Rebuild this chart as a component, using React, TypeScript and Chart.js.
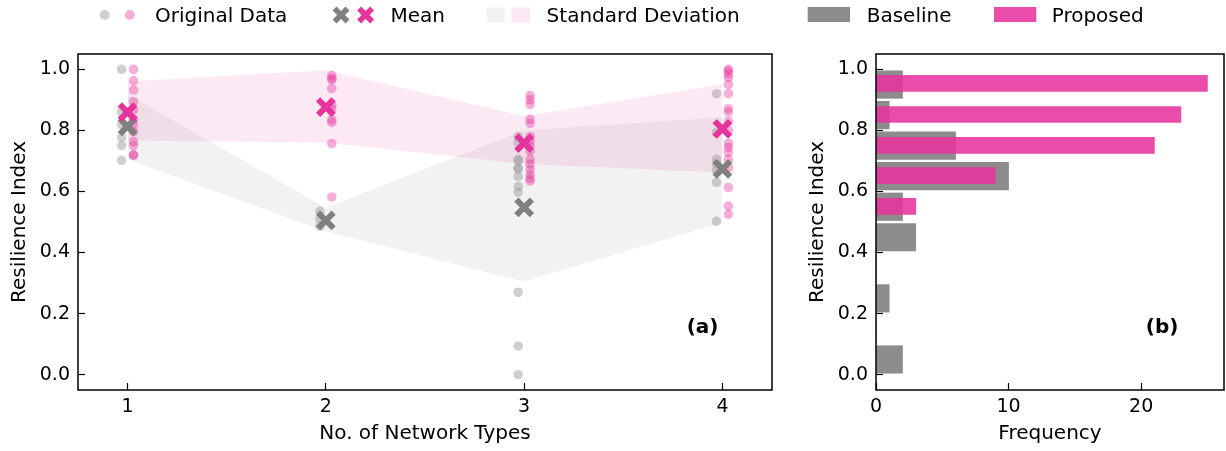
import React, { useEffect, useRef } from 'react';
import { Chart, registerables } from 'chart.js';

Chart.register(...registerables);

// ---------- data ----------
const networkTypes = [1, 2, 3, 4];

const baselineData = [
  [1.0, 0.86, 0.82, 0.777, 0.751, 0.702],
  [0.535, 0.51, 0.486],
  [0.78, 0.76, 0.705, 0.7, 0.675, 0.675, 0.649, 0.616, 0.597, 0.27, 0.094, 0.0],
  [0.92, 0.793, 0.705, 0.69, 0.67, 0.63, 0.502],
];
const proposedData = [
  [1.0, 0.963, 0.932, 0.894, 0.867, 0.836, 0.818, 0.796, 0.763, 0.75, 0.72, 0.718],
  [0.98, 0.97, 0.965, 0.937, 0.882, 0.87, 0.835, 0.826, 0.757, 0.582],
  [0.914, 0.9, 0.885, 0.836, 0.823, 0.78, 0.765, 0.749, 0.732, 0.705, 0.689, 0.672, 0.656, 0.643, 0.634],
  [1.0, 0.995, 0.984, 0.973, 0.95, 0.92, 0.871, 0.86, 0.83, 0.8, 0.757, 0.744, 0.728, 0.705, 0.678, 0.613, 0.552, 0.525],
];

const baselineMean = [0.813, 0.505, 0.548, 0.674];
const proposedMean = [0.86, 0.876, 0.758, 0.805];
const baselineUpper = [0.918, 0.547, 0.8, 0.843];
const baselineLower = [0.705, 0.469, 0.305, 0.498];
const proposedUpper = [0.96, 0.997, 0.846, 0.951];
const proposedLower = [0.767, 0.76, 0.69, 0.662];

const baselineBinCenters = [0.05, 0.15, 0.25, 0.35, 0.45, 0.55, 0.65, 0.75, 0.85, 0.95];
const baselineCounts = [2, 0, 1, 0, 3, 2, 10, 6, 1, 2];
const proposedBinCenters = [0.551, 0.652, 0.751, 0.852, 0.954];
const proposedCounts = [3, 9, 21, 23, 25];

const yTicks = [0, 0.2, 0.4, 0.6, 0.8, 1.0];
const xTicksLeft = [1, 2, 3, 4];
const xTicksRight = [0, 10, 20];

// ---------- styles ----------
const FONT = 'DejaVu Sans';
const GRAY = '128,128,128';
const PINK = '231,52,157';
const JITTER = 0.03;

const framePlugin = {
  id: 'frame',
  afterDatasetsDraw(chart: any, _args: any, opts: any) {
    const { ctx, chartArea: a } = chart;
    ctx.save();
    ctx.strokeStyle = '#000';
    ctx.lineWidth = 1.5;
    ctx.strokeRect(a.left, a.top, a.right - a.left, a.bottom - a.top);
    if (opts && opts.label) {
      ctx.font = `bold 20px "${FONT}"`;
      ctx.textAlign = 'center';
      ctx.textBaseline = 'middle';
      ctx.fillStyle = '#000';
      ctx.fillText(opts.label, a.left + opts.fx * (a.right - a.left), a.top + opts.fy * (a.bottom - a.top));
    }
    ctx.restore();
  },
};

const tickGrid = {
  display: true,
  drawOnChartArea: false,
  drawTicks: true,
  tickLength: -7,
  tickColor: '#000',
  tickWidth: 1.2,
  offset: false,
};

function yScale(width: number, titlePad: number) {
  return {
    type: 'linear',
    min: -0.05,
    max: 1.05,
    offset: false,
    afterBuildTicks: (s: any) => { s.ticks = yTicks.map((v) => ({ value: v })); },
    afterFit: (s: any) => { s.width = width; s.paddingTop = 0; s.paddingBottom = 0; },
    grid: tickGrid,
    border: { display: false },
    ticks: {
      color: '#000',
      font: { family: FONT, size: 19 },
      padding: 15,
      callback: (v: any) => Number(v).toFixed(1),
    },
    title: {
      display: true,
      text: 'Resilience Index',
      color: '#000',
      font: { family: FONT, size: 20 },
      padding: { top: titlePad, bottom: 0 },
    },
  };
}

function xScale(min: number, max: number, ticksArr: number[], title: string) {
  return {
    type: 'linear',
    min,
    max,
    offset: false,
    afterBuildTicks: (s: any) => { s.ticks = ticksArr.map((v) => ({ value: v })); },
    afterFit: (s: any) => { s.height = 61; s.paddingLeft = 0; s.paddingRight = 0; },
    grid: tickGrid,
    border: { display: false },
    ticks: {
      color: '#000',
      font: { family: FONT, size: 19 },
      padding: 13,
      maxRotation: 0,
      callback: (v: any) => String(v),
    },
    title: {
      display: true,
      text: title,
      color: '#000',
      font: { family: FONT, size: 20 },
      padding: { top: 0, bottom: 5 },
    },
  };
}

function pointsOf(data: number[][], dx: number) {
  return data.flatMap((vals, i) => vals.map((v) => ({ x: networkTypes[i] + dx, y: v })));
}
function lineOf(vals: number[]) {
  return vals.map((v, i) => ({ x: networkTypes[i], y: v }));
}

const bandLine = (data: any, order: number, fill: any, color: string) => ({
  type: 'line',
  data,
  order,
  fill,
  backgroundColor: color,
  borderColor: 'transparent',
  borderWidth: 0,
  pointRadius: 0,
  tension: 0,
});

export default function App() {
  const leftRef = useRef<HTMLCanvasElement>(null);
  const rightRef = useRef<HTMLCanvasElement>(null);

  useEffect(() => {
    Chart.defaults.font.family = FONT;
    Chart.defaults.color = '#000';

    const left = new Chart(leftRef.current as HTMLCanvasElement, {
      type: 'scatter',
      data: {
        datasets: [
          bandLine(lineOf(baselineUpper), 10, false, `rgba(${GRAY},0.1)`),
          bandLine(lineOf(baselineLower), 9, 0, `rgba(${GRAY},0.1)`),
          bandLine(lineOf(proposedUpper), 8, false, `rgba(${PINK},0.11)`),
          bandLine(lineOf(proposedLower), 7, 2, `rgba(${PINK},0.11)`),
          {
            type: 'scatter',
            data: pointsOf(baselineData, -JITTER),
            order: 5,
            pointRadius: 4.8,
            pointBorderWidth: 0,
            pointBackgroundColor: `rgba(160,160,160,0.5)`,
            backgroundColor: `rgba(160,160,160,0.5)`,
          },
          {
            type: 'scatter',
            data: pointsOf(proposedData, JITTER),
            order: 4,
            pointRadius: 4.8,
            pointBorderWidth: 0,
            pointBackgroundColor: `rgba(${PINK},0.4)`,
            backgroundColor: `rgba(${PINK},0.4)`,
          },
          {
            type: 'scatter',
            data: lineOf(baselineMean),
            order: 1,
            pointStyle: 'crossRot',
            pointRadius: 11,
            pointBorderWidth: 6,
            borderWidth: 6,
            pointBorderColor: `rgb(${GRAY})`,
            borderColor: `rgb(${GRAY})`,
          },
          {
            type: 'scatter',
            data: lineOf(proposedMean),
            order: 0,
            pointStyle: 'crossRot',
            pointRadius: 11,
            pointBorderWidth: 6,
            borderWidth: 6,
            pointBorderColor: `rgb(${PINK})`,
            borderColor: `rgb(${PINK})`,
          },
        ] as any,
      },
      options: {
        responsive: false,
        animation: false,
        layout: { autoPadding: false, padding: { top: 54, right: 8, left: 0, bottom: 0 } },
        plugins: {
          legend: { display: false },
          tooltip: { enabled: false },
          frame: { label: '(a)', fx: 0.9, fy: 0.815 },
        } as any,
        scales: {
          x: xScale(0.75, 4.25, xTicksLeft, 'No. of Network Types'),
          y: yScale(78, 8),
        } as any,
      },
      plugins: [framePlugin],
    });

    const right = new Chart(rightRef.current as HTMLCanvasElement, {
      type: 'bar',
      data: {
        datasets: [
          {
            label: 'Baseline',
            data: baselineBinCenters.map((c, i) => ({ x: baselineCounts[i], y: c })),
            backgroundColor: `rgba(${GRAY},0.9)`,
            borderWidth: 0,
            barThickness: 27.5,
            grouped: false,
            order: 1,
          },
          {
            label: 'Proposed',
            data: proposedBinCenters.map((c, i) => ({ x: proposedCounts[i], y: c })),
            backgroundColor: `rgba(${PINK},0.88)`,
            borderWidth: 0,
            barThickness: 16,
            grouped: false,
            order: 0,
          },
        ] as any,
      },
      options: {
        indexAxis: 'y',
        responsive: false,
        animation: false,
        layout: { autoPadding: false, padding: { top: 54, right: 2, left: 0, bottom: 0 } },
        plugins: {
          legend: { display: false },
          tooltip: { enabled: false },
          frame: { label: '(b)', fx: 0.822, fy: 0.815 },
        } as any,
        scales: {
          x: xScale(0, 26.25, xTicksRight, 'Frequency'),
          y: yScale(86, 16),
        } as any,
      },
      plugins: [framePlugin],
    });

    return () => {
      left.destroy();
      right.destroy();
    };
  }, []);

  const textStyle: React.CSSProperties = {
    position: 'absolute',
    top: 0,
    height: 30,
    lineHeight: '30px',
    fontFamily: FONT,
    fontSize: 20,
    color: '#000',
    whiteSpace: 'nowrap',
  };

  const xMark = (cx: number, cy: number, color: string) => (
    <g stroke={color} strokeWidth={5.5}>
      <line x1={cx - 6.5} y1={cy - 6.5} x2={cx + 6.5} y2={cy + 6.5} />
      <line x1={cx - 6.5} y1={cy + 6.5} x2={cx + 6.5} y2={cy - 6.5} />
    </g>
  );

  return (
    <div style={{ position: 'absolute', left: 0, top: 0, width: 1226, height: 451, background: '#fff', overflow: 'hidden' }}>
      <canvas ref={leftRef} width={780} height={451} style={{ position: 'absolute', left: 0, top: 0 }} />
      <canvas ref={rightRef} width={436} height={451} style={{ position: 'absolute', left: 790, top: 0 }} />
      <svg width={1226} height={32} style={{ position: 'absolute', left: 0, top: 0 }}>
        <circle cx={104.7} cy={15} r={5} fill="rgba(160,160,160,0.5)" />
        <circle cx={129.8} cy={15} r={5} fill={`rgba(${PINK},0.4)`} />
        {xMark(341, 15, `rgb(${GRAY})`)}
        {xMark(365.6, 15, `rgb(${PINK})`)}
        <rect x={486.5} y={7.5} width={18.5} height={15} fill={`rgba(${GRAY},0.1)`} />
        <rect x={511.6} y={7.5} width={18.5} height={15} fill={`rgba(${PINK},0.11)`} />
        <rect x={807.7} y={7} width={42.3} height={15} fill={`rgba(${GRAY},0.9)`} />
        <rect x={994} y={7} width={42.3} height={15} fill={`rgba(${PINK},0.88)`} />
      </svg>
      <span style={{ ...textStyle, left: 155 }}>Original Data</span>
      <span style={{ ...textStyle, left: 390.5 }}>Mean</span>
      <span style={{ ...textStyle, left: 546.6 }}>Standard Deviation</span>
      <span style={{ ...textStyle, left: 866.7 }}>Baseline</span>
      <span style={{ ...textStyle, left: 1051.7 }}>Proposed</span>
    </div>
  );
}
